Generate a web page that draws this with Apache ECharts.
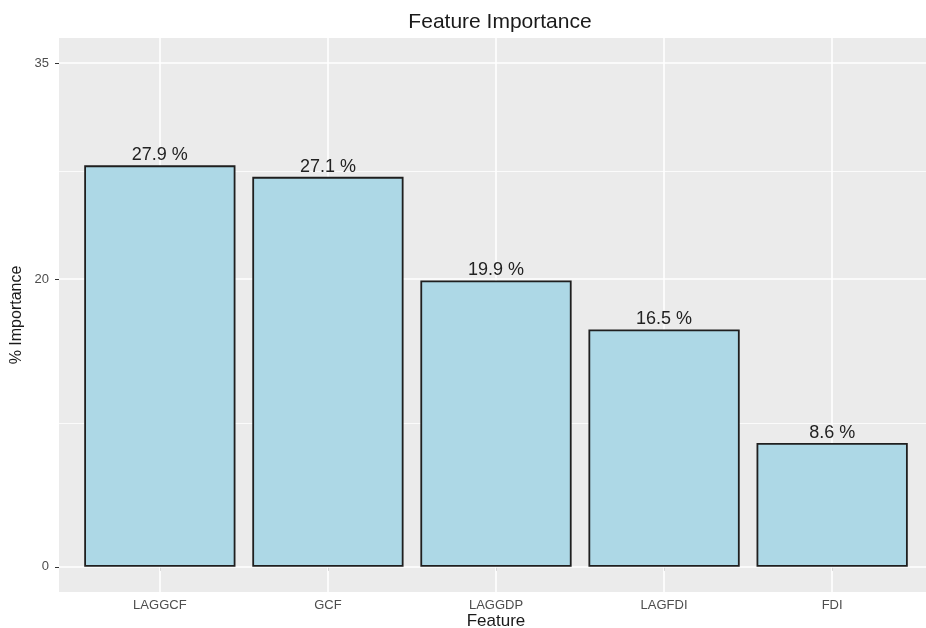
<!DOCTYPE html>
<html>
<head>
<meta charset="utf-8">
<script src="https://cdn.jsdelivr.net/npm/echarts@6/dist/echarts.min.js"></script>
<style>html,body{margin:0;padding:0;background:#fff}#c{width:926px;height:628px}</style>
</head>
<body>
<div id="c"></div>
<script>
var categories = ['LAGGCF', 'GCF', 'LAGGDP', 'LAGFDI', 'FDI'];
var importance = [27.9, 27.1, 19.9, 16.5, 8.6];
var yTicks = [0, 20, 35];
var yMinor = [10, 27.5];

var FONT = "'Liberation Sans', Arial, sans-serif";
var gridLeft = 59, gridTop = 38, gridWidth = 874, gridHeight = 554;
var xMin = 0.4, xMax = categories.length + 0.6;
var barW = gridWidth / (xMax - xMin) * 0.9;

var barData = importance.map(function (v, i) { return [i + 1, v]; });
var xPos = categories.map(function (c, i) { return i + 1; });

var gridLines = [];
yTicks.forEach(function (v) { gridLines.push({ yAxis: v, lineStyle: { width: 1.6 } }); });
yMinor.forEach(function (v) { gridLines.push({ yAxis: v, lineStyle: { width: 0.8 } }); });
xPos.forEach(function (v) { gridLines.push({ xAxis: v, lineStyle: { width: 1.6 } }); });

var chart = echarts.init(document.getElementById('c'), null, { renderer: 'canvas' });
chart.setOption({
  animation: false,
  backgroundColor: '#ffffff',
  title: {
    text: 'Feature Importance',
    left: 495, top: 7, textAlign: 'center',
    textStyle: { fontFamily: FONT, fontSize: 21, fontWeight: 'normal', color: '#1a1a1a' }
  },
  grid: {
    left: gridLeft, top: gridTop, width: gridWidth, height: gridHeight,
    show: true, backgroundColor: '#EBEBEB', borderWidth: 0,
    containLabel: false, outerBoundsMode: 'none'
  },
  xAxis: {
    type: 'value', min: xMin, max: xMax,
    name: 'Feature', nameLocation: 'middle', nameGap: 21, nameMoveOverlap: false,
    nameTextStyle: { fontFamily: FONT, fontSize: 17, color: '#1a1a1a' },
    axisLine: { show: false },
    axisTick: { show: true, length: 4, customValues: xPos, lineStyle: { color: '#333333', width: 1 } },
    axisLabel: {
      customValues: xPos, margin: 7,
      fontFamily: FONT, fontSize: 13, color: '#4D4D4D',
      formatter: function (v) { return categories[Math.round(v) - 1] || ''; }
    },
    splitLine: { show: false }
  },
  yAxis: {
    type: 'value', min: -1.75, max: 36.75,
    name: '% Importance', nameLocation: 'middle', nameGap: 34, nameRotate: 90, nameMoveOverlap: false,
    nameTextStyle: { fontFamily: FONT, fontSize: 16, color: '#1a1a1a' },
    axisLine: { show: false },
    axisTick: { show: true, length: 4, customValues: yTicks, lineStyle: { color: '#333333', width: 1 } },
    axisLabel: { customValues: yTicks, margin: 10, fontFamily: FONT, fontSize: 13, color: '#4D4D4D' },
    splitLine: { show: false }
  },
  series: [
    {
      type: 'line', data: [], z: 1, silent: true,
      markLine: {
        silent: true, symbol: 'none', label: { show: false }, animation: false, z: 1,
        lineStyle: { color: '#ffffff', type: 'solid' },
        data: gridLines
      }
    },
    {
      type: 'bar', data: barData, barWidth: barW, z: 3,
      itemStyle: { color: '#ADD8E6', borderColor: '#1f1f1f', borderWidth: 1.8 },
      label: {
        show: true, position: 'top', distance: 1,
        fontFamily: FONT, fontSize: 18, color: '#222222',
        formatter: function (p) { return p.value[1].toFixed(1) + ' %'; }
      }
    }
  ]
});
</script>
</body>
</html>
